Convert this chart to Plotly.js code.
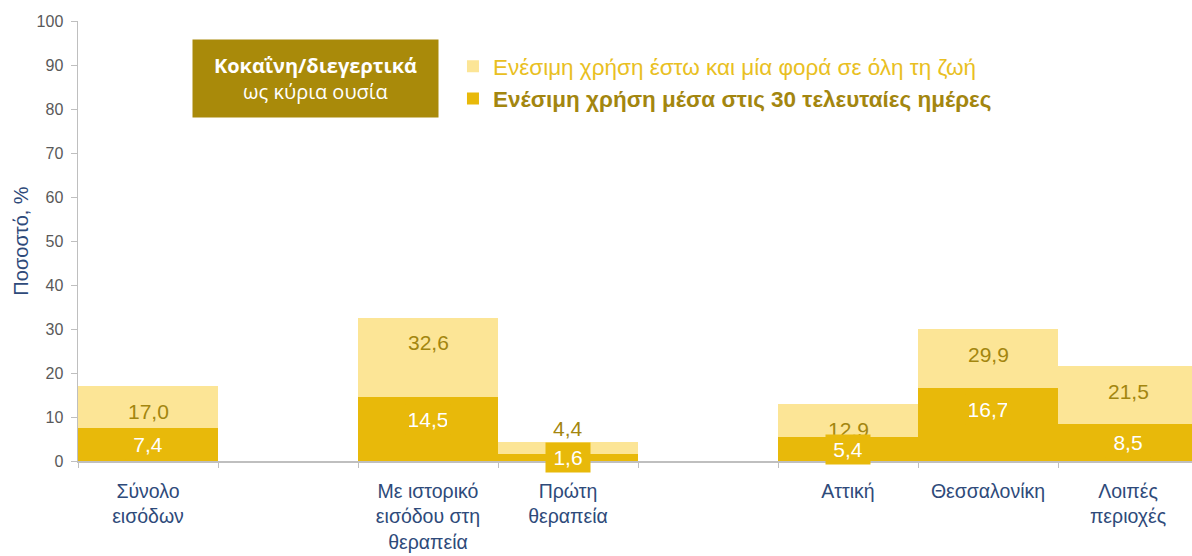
<!DOCTYPE html>
<html>
<head>
<meta charset="utf-8">
<script src="https://cdn.plot.ly/plotly-3.0.1.min.js"></script>
<style>html,body{margin:0;padding:0;background:#fff;} #chart{width:1192px;height:556px;}</style>
</head>
<body>
<div id="chart"></div>
<script>
// ---- data ----
const categories = ['Σύνολο<br>εισόδων', '', 'Με ιστορικό<br>εισόδου στη<br>θεραπεία', 'Πρώτη<br>θεραπεία', '', 'Αττική', 'Θεσσαλονίκη', 'Λοιπές<br>περιοχές'];
const lifetime = [17.0, null, 32.6, 4.4, null, 12.9, 29.9, 21.5];
const last30 = [7.4, null, 14.5, 1.6, null, 5.4, 16.7, 8.5];
const seriesNames = ['Ενέσιμη χρήση έστω και μία φορά σε όλη τη ζωή', 'Ενέσιμη χρήση μέσα στις 30 τελευταίες ημέρες'];
const yTicks = [0, 10, 20, 30, 40, 50, 60, 70, 80, 90, 100];

// ---- style ----
const LIGHT = '#FCE596', DARK = '#E8B90A', GOLD = '#A3860F', BLUE = '#2E4A7A', GRAY = '#595959';
const FONT = '"Liberation Sans Narrow", "Liberation Sans", Arial, sans-serif';
const fmt = v => v.toFixed(1).replace('.', ',');

const xs = categories.map((c, i) => i);
const shownIdx = xs.filter(i => lifetime[i] !== null);

const traces = [
  {type: 'bar', x: xs, y: lifetime, name: '<span style="color:#E9BF22">' + seriesNames[0] + '</span>',
   legendgroup: 'a', marker: {color: LIGHT}, width: 1, hoverinfo: 'skip'},
  {type: 'bar', x: xs, y: last30, name: '<b><span style="color:' + GOLD + '">' + seriesNames[1] + '</span></b>',
   legendgroup: 'b', marker: {color: DARK}, width: 1, hoverinfo: 'skip'},
  // boundary ticks on a second axis
  {type: 'scatter', x: [-0.5, 7.5], y: [null, null], xaxis: 'x2', showlegend: false, hoverinfo: 'skip'}
];

const annotations = [];
shownIdx.forEach(i => {
  const v = lifetime[i];
  const small = v < 8;
  annotations.push({x: i, y: small ? v + 3.1 : v - 5.7, xref: 'x', yref: 'y', text: fmt(v), showarrow: false,
    font: {family: FONT, size: 21, color: GOLD}});
});
shownIdx.forEach(i => {
  const v = last30[i];
  annotations.push({x: i, y: Math.max(v - 5, v / 2), xref: 'x', yref: 'y', text: fmt(v), showarrow: false,
    font: {family: FONT, size: 21, color: '#ffffff'}, bgcolor: DARK, borderpad: 3, width: 38});
});
// title box
annotations.push({xref: 'paper', yref: 'paper', x: 0.2132, y: 0.869, xanchor: 'center', yanchor: 'middle',
  text: '<b>Κοκαΐνη/διεγερτικά</b><br>ως κύρια ουσία', showarrow: false, align: 'center',
  font: {family: '"Open Sans", "Noto Sans", sans-serif', size: 20, color: '#ffffff'},
  bgcolor: '#A98A0A', width: 245, height: 77, borderpad: 0});

const layout = {
  width: 1192, height: 556,
  margin: {l: 78, r: 0, t: 21, b: 95},
  paper_bgcolor: '#ffffff', plot_bgcolor: '#ffffff',
  barmode: 'overlay', bargap: 0,
  showlegend: true,
  legend: {x: 0.3366, y: 0.945, xanchor: 'left', yanchor: 'top', bgcolor: 'rgba(0,0,0,0)',
    font: {family: FONT, size: 22.5}, tracegroupgap: 6, itemwidth: 30, traceorder: 'normal'},
  xaxis: {range: [-0.5, -0.5 + 1114 / 140], tickmode: 'array', tickvals: shownIdx,
    ticktext: shownIdx.map(i => categories[i]), ticks: '', showline: true, linecolor: '#BFBFBF', linewidth: 1.5,
    showgrid: false, zeroline: false, fixedrange: true, ticklabelstandoff: 12,
    tickfont: {family: FONT, size: 19.5, color: BLUE}},
  xaxis2: {overlaying: 'x', range: [-0.5, -0.5 + 1114 / 140], tickmode: 'array',
    tickvals: [-0.5, 0.5, 1.5, 2.5, 3.5, 4.5, 5.5, 6.5, 7.5], showticklabels: false,
    ticks: 'outside', ticklen: 6, tickcolor: '#BFBFBF', showgrid: false, zeroline: false, side: 'bottom'},
  yaxis: {range: [0, 100], tickmode: 'array', tickvals: yTicks, ticks: 'outside', ticklen: 6,
    tickcolor: '#BFBFBF', showline: true, linecolor: '#BFBFBF', linewidth: 1.5, showgrid: false, zeroline: false,
    tickfont: {family: FONT, size: 16, color: GRAY}, ticklabelstandoff: 4,
    title: {text: 'Ποσοστό, %', font: {family: FONT, size: 20, color: BLUE}, standoff: 2}},
  annotations: annotations
};

Plotly.newPlot('chart', traces, layout, {staticPlot: true, displayModeBar: false});
</script>
</body>
</html>
